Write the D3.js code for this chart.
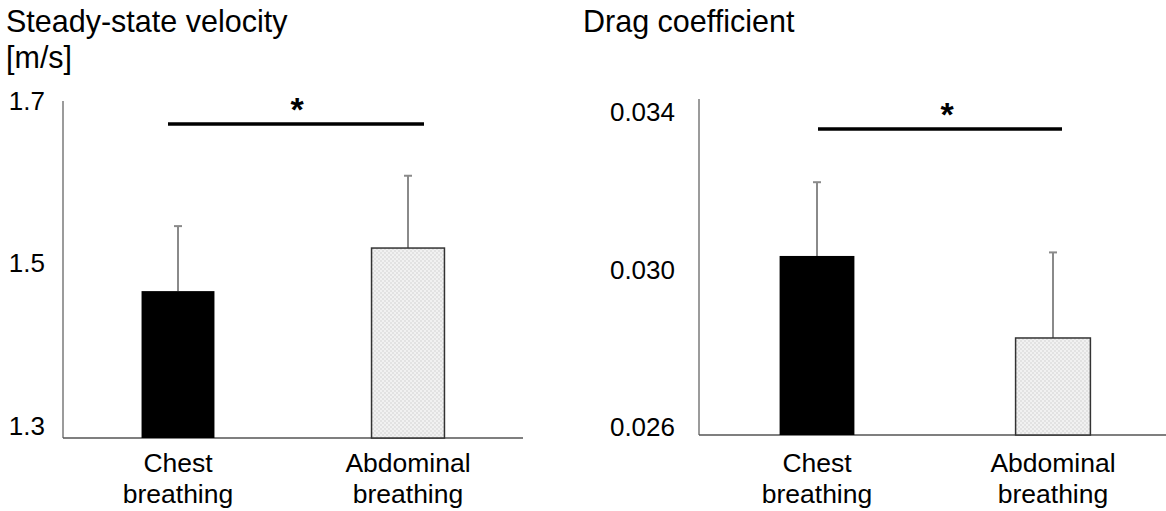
<!DOCTYPE html>
<html>
<head>
<meta charset="utf-8">
<title>Breathing comparison</title>
<script src="https://d3js.org/d3.v7.min.js"></script>
<style>
  body { margin: 0; background: #fff; }
  svg text { font-family: "Liberation Sans", Arial, sans-serif; fill: #000; }
</style>
</head>
<body>
<svg id="chart" width="1166" height="511"></svg>
<script>
// values
const categories = ["Chest breathing", "Abdominal breathing"];
const velocityMean = [1.466, 1.519];
const velocitySD = [0.080, 0.089];
const velocityTicks = [1.3, 1.5, 1.7];
const dragMean = [0.03035, 0.02827];
const dragSD = [0.00187, 0.00217];
const dragTicks = [0.026, 0.030, 0.034];

const svg = d3.select("#chart");

// dotted fill used by the abdominal bars
const pat = svg.append("defs").append("pattern")
  .attr("id", "dots").attr("patternUnits", "userSpaceOnUse")
  .attr("width", 4).attr("height", 4);
pat.append("rect").attr("width", 4).attr("height", 4).attr("fill", "#f1f1f1");
pat.append("circle").attr("cx", 1).attr("cy", 1).attr("r", 0.8).attr("fill", "#cfcfcf");
pat.append("circle").attr("cx", 3).attr("cy", 3).attr("r", 0.8).attr("fill", "#cfcfcf");

function panel(o) {
  const g = svg.append("g");
  const x = d3.scaleBand().domain(categories)
    .range([o.x0, o.x1]).paddingInner(0.683).paddingOuter(0.3415);
  const y = d3.scaleLinear().domain(o.domain).range([o.yBottom, o.yTop]);

  // title
  const t = g.append("text").attr("x", o.titleX).attr("y", 32).style("font-size", "30.5px");
  o.title.forEach((s, i) => t.append("tspan").attr("x", o.titleX).attr("dy", i ? 36 : 0).text(s));

  // y tick labels
  const ax = g.append("g").attr("transform", `translate(${o.x0},0)`)
    .call(d3.axisLeft(y).tickValues(o.ticks).tickSize(0).tickPadding(o.pad).tickFormat(o.fmt));
  ax.select(".domain").remove();
  ax.selectAll("text").style("font-size", "26px").attr("font-family", null);

  // axis lines
  g.append("line").attr("x1", o.x0).attr("x2", o.x0)
    .attr("y1", y(o.domain[1])).attr("y2", y(o.domain[0]))
    .attr("stroke", "#7a7a7a").attr("stroke-width", 1.5);
  g.append("line").attr("x1", o.x0).attr("x2", o.x1)
    .attr("y1", y(o.domain[0])).attr("y2", y(o.domain[0]))
    .attr("stroke", "#555").attr("stroke-width", 1.5);

  // error bars (upper only)
  const eb = g.selectAll(".eb").data(categories).enter().append("g");
  eb.append("line")
    .attr("x1", d => x(d) + x.bandwidth() / 2).attr("x2", d => x(d) + x.bandwidth() / 2)
    .attr("y1", (d, i) => y(o.mean[i])).attr("y2", (d, i) => y(o.mean[i] + o.sd[i]))
    .attr("stroke", "#8a8a8a").attr("stroke-width", 2);
  eb.append("line")
    .attr("x1", d => x(d) + x.bandwidth() / 2 - 4).attr("x2", d => x(d) + x.bandwidth() / 2 + 4)
    .attr("y1", (d, i) => y(o.mean[i] + o.sd[i])).attr("y2", (d, i) => y(o.mean[i] + o.sd[i]))
    .attr("stroke", "#8a8a8a").attr("stroke-width", 2);

  // bars
  g.selectAll(".bar").data(categories).enter().append("rect")
    .attr("x", d => x(d)).attr("width", x.bandwidth())
    .attr("y", (d, i) => y(o.mean[i]))
    .attr("height", (d, i) => y(o.domain[0]) - y(o.mean[i]))
    .attr("fill", (d, i) => i ? "url(#dots)" : "#000")
    .attr("stroke", (d, i) => i ? "#333" : "none")
    .attr("stroke-width", 1.5);

  // category labels
  const lab = g.selectAll(".cat").data(categories).enter().append("text")
    .attr("text-anchor", "middle").style("font-size", "26.5px")
    .attr("y", 472);
  lab.each(function(d) {
    const el = d3.select(this);
    const cx = x(d) + x.bandwidth() / 2;
    d.split(" ").forEach((w, i) => el.append("tspan").attr("x", cx).attr("dy", i ? 31 : 0).text(w));
  });

  // significance marker
  const c0 = x(categories[0]) + x.bandwidth() / 2;
  const c1 = x(categories[1]) + x.bandwidth() / 2;
  const sy = y(o.sigY);
  g.append("line").attr("x1", c0 + o.sigL).attr("x2", c1 + o.sigR)
    .attr("y1", sy).attr("y2", sy).attr("stroke", "#000").attr("stroke-width", 3.5);
  g.append("text").attr("x", (c0 + o.sigL + c1 + o.sigR) / 2 + o.starDx).attr("y", sy - 3)
    .attr("text-anchor", "middle").style("font-size", "34px").style("font-weight", "bold").text("*");
}

panel({
  title: ["Steady-state velocity", "[m/s]"], titleX: 6,
  mean: velocityMean, sd: velocitySD, ticks: velocityTicks,
  fmt: d3.format(".1f"), domain: [1.2852, 1.7],
  x0: 63, x1: 523, yTop: 101, yBottom: 438, pad: 18,
  sigY: 1.6717, sigL: -10, sigR: 16, starDx: 1
});

panel({
  title: ["Drag coefficient"], titleX: 583,
  mean: dragMean, sd: dragSD, ticks: dragTicks,
  fmt: d3.format(".3f"), domain: [0.02581, 0.03433],
  x0: 699, x1: 1171, yTop: 99, yBottom: 435, pad: 24,
  sigY: 0.03357, sigL: 1, sigR: 9, starDx: 7
});
</script>
</body>
</html>
